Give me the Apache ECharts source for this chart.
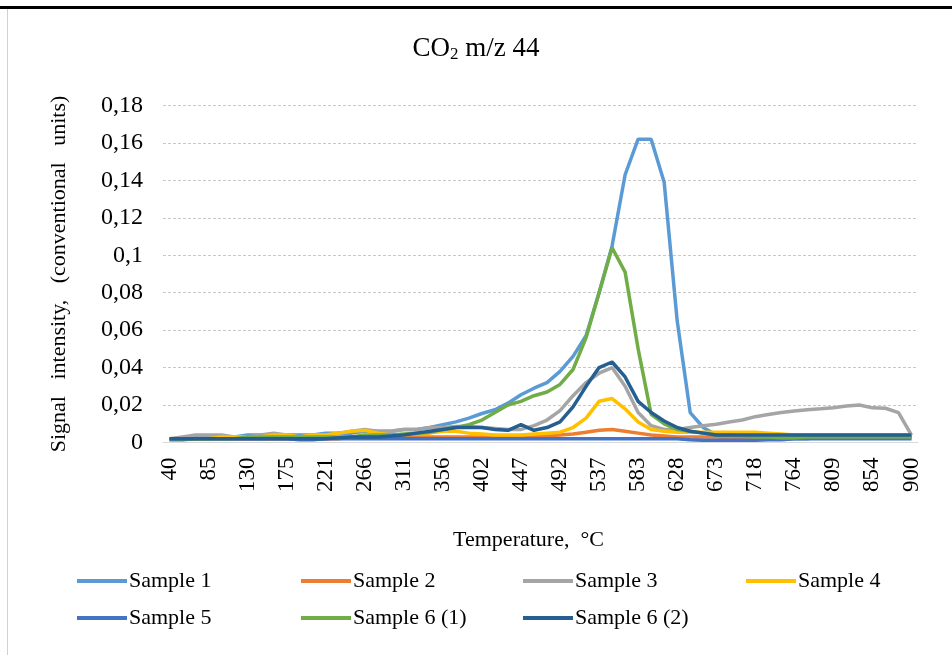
<!DOCTYPE html>
<html>
<head>
<meta charset="utf-8">
<script src="https://cdn.jsdelivr.net/npm/echarts@6/dist/echarts.min.js"></script>
<style>
html,body{margin:0;padding:0;background:#fff;}
#chart{width:952px;height:655px;}
</style>
</head>
<body>
<div id="chart"></div>
<script>
// Temperature categories (°C)
var temperatures = ['40','55','70','85','100','115','130','145','160','175','190','205','221','236','251','266','281','296','311','326','341','356','371','387','402','417','432','447','462','477','492','507','522','537','552','568','583','598','613','628','643','658','673','688','703','718','734','749','764','779','794','809','824','839','854','869','884','900'];

var sample1 = [0.002,0.002,0.003,0.003,0.003,0.003,0.004,0.004,0.004,0.004,0.004,0.004,0.005,0.005,0.005,0.006,0.006,0.006,0.007,0.007,0.008,0.0095,0.011,0.013,0.0155,0.0175,0.021,0.0255,0.029,0.032,0.038,0.046,0.057,0.080,0.105,0.143,0.162,0.162,0.139,0.065,0.016,0.008,0.004,0.003,0.002,0.002,0.002,0.002,0.002,0.002,0.003,0.003,0.003,0.003,0.003,0.003,0.003,0.003];

var sample2 = [0.002,0.002,0.002,0.002,0.002,0.002,0.002,0.002,0.002,0.002,0.002,0.002,0.002,0.002,0.003,0.003,0.003,0.003,0.003,0.003,0.003,0.003,0.003,0.003,0.003,0.003,0.003,0.003,0.003,0.0035,0.004,0.0045,0.0055,0.0065,0.007,0.006,0.005,0.004,0.0035,0.003,0.003,0.003,0.003,0.0025,0.0025,0.0025,0.0025,0.0025,0.0025,0.0025,0.0025,0.0025,0.0025,0.0025,0.0025,0.0025,0.0025,0.0025];

var sample3 = [0.002,0.003,0.004,0.004,0.004,0.003,0.003,0.004,0.005,0.004,0.003,0.004,0.004,0.005,0.006,0.007,0.006,0.006,0.007,0.007,0.008,0.008,0.0085,0.0085,0.008,0.0075,0.007,0.007,0.009,0.012,0.017,0.025,0.032,0.037,0.040,0.030,0.016,0.009,0.007,0.007,0.008,0.009,0.0097,0.011,0.012,0.0138,0.015,0.016,0.0168,0.0175,0.018,0.0186,0.0195,0.020,0.0185,0.0183,0.016,0.004];

var sample4 = [0.002,0.002,0.002,0.002,0.003,0.003,0.003,0.003,0.004,0.004,0.003,0.004,0.004,0.005,0.006,0.0065,0.005,0.004,0.004,0.005,0.005,0.006,0.006,0.005,0.0045,0.004,0.004,0.004,0.0045,0.005,0.0055,0.008,0.013,0.022,0.0235,0.018,0.011,0.007,0.006,0.0055,0.0055,0.0055,0.0055,0.0055,0.0055,0.0055,0.005,0.0045,0.004,0.004,0.004,0.004,0.004,0.004,0.004,0.004,0.004,0.004];

var sample5 = [0.0015,0.0015,0.002,0.002,0.002,0.002,0.002,0.002,0.002,0.002,0.0015,0.0015,0.002,0.002,0.002,0.002,0.002,0.002,0.002,0.002,0.002,0.002,0.002,0.002,0.002,0.002,0.002,0.002,0.002,0.002,0.002,0.002,0.002,0.002,0.002,0.002,0.002,0.002,0.002,0.002,0.0015,0.0012,0.0012,0.0012,0.0012,0.0012,0.0015,0.0015,0.002,0.002,0.002,0.002,0.002,0.002,0.002,0.002,0.002,0.002];

var sample61 = [0.002,0.002,0.002,0.002,0.002,0.002,0.003,0.003,0.003,0.003,0.003,0.003,0.003,0.003,0.003,0.004,0.004,0.004,0.0045,0.005,0.0055,0.007,0.008,0.0095,0.012,0.016,0.020,0.022,0.025,0.027,0.031,0.039,0.056,0.080,0.104,0.091,0.050,0.015,0.010,0.007,0.006,0.005,0.004,0.004,0.0035,0.003,0.003,0.0025,0.0025,0.003,0.003,0.003,0.003,0.003,0.003,0.003,0.003,0.003];

var sample62 = [0.002,0.002,0.002,0.002,0.002,0.002,0.002,0.002,0.002,0.002,0.002,0.002,0.002,0.0025,0.003,0.003,0.003,0.0035,0.004,0.005,0.006,0.007,0.008,0.008,0.008,0.007,0.0065,0.0095,0.0065,0.008,0.011,0.019,0.030,0.040,0.043,0.035,0.022,0.016,0.0115,0.008,0.006,0.005,0.004,0.004,0.004,0.004,0.004,0.004,0.004,0.004,0.004,0.004,0.004,0.004,0.004,0.004,0.004,0.004];

var seriesNames = ['Sample 1','Sample 2','Sample 3','Sample 4','Sample 5','Sample 6 (1)','Sample 6 (2)'];
var seriesData = [sample1, sample2, sample3, sample4, sample5, sample61, sample62];
var seriesColors = ['#5B9BD5','#ED7D31','#A5A5A5','#FFC000','#4472C4','#70AD47','#255E91'];

// y-axis ticks
var yMin = 0, yMax = 0.18, yStep = 0.02;

var FONT = "'Liberation Serif', 'Times New Roman', serif";

var chart = echarts.init(document.getElementById('chart'), null, {renderer: 'canvas'});

var series = seriesNames.map(function (n, k) {
  return {
    name: n,
    type: 'line',
    data: seriesData[k],
    symbol: 'none',
    smooth: false,
    lineStyle: {width: 3.5, color: seriesColors[k]},
    itemStyle: {color: seriesColors[k]},
    emphasis: {disabled: true}
  };
});

// legend layout: 4 columns x 2 rows
var legendPos = [
  [72, 565], [296, 565], [518, 565], [741, 565],
  [72, 602], [296, 602], [518, 602]
];
var legends = seriesNames.map(function (n, k) {
  return {
    data: [n],
    left: legendPos[k][0],
    top: legendPos[k][1],
    icon: 'rect',
    itemWidth: 50,
    itemHeight: 4,
    itemGap: 0,
    textStyle: {fontFamily: FONT, fontSize: 22, color: '#000', padding: [0, 0, 0, -3]},
    selectedMode: false
  };
});

chart.setOption({
  animation: false,
  backgroundColor: '#fff',
  title: {
    text: '{a|CO}{s|2}{a| m/z 44}',
    left: 'center',
    top: 29,
    textStyle: {
      fontWeight: 'normal',
      rich: {
        a: {fontFamily: FONT, fontSize: 27, fontWeight: 'normal', color: '#000'},
        s: {fontFamily: FONT, fontSize: 17, fontWeight: 'normal', color: '#000', padding: [12, 0, 0, 0]}
      }
    }
  },
  legend: legends,
  grid: {left: 163, right: 34, top: 105.5, bottom: 212.5, containLabel: false, outerBoundsMode: 'none'},
  xAxis: {
    type: 'category',
    data: temperatures,
    boundaryGap: true,
    name: 'Temperature,\u00a0\u00a0°C',
    nameLocation: 'middle',
    nameGap: 87,
    nameTextStyle: {fontFamily: FONT, fontSize: 22, color: '#000', padding: [0, 24, 0, 0]},
    axisLine: {show: true, lineStyle: {color: '#d9d9d9', width: 1}},
    axisTick: {show: false},
    axisLabel: {
      interval: 2,
      rotate: 90,
      margin: 15,
      fontFamily: FONT,
      fontSize: 23,
      color: '#000'
    },
    splitLine: {show: false}
  },
  yAxis: {
    type: 'value',
    min: yMin,
    max: yMax,
    interval: yStep,
    name: 'Signal\u00a0\u00a0\u00a0intensity,\u00a0\u00a0\u00a0(conventional\u00a0\u00a0\u00a0units)',
    nameLocation: 'middle',
    nameGap: 93,
    nameTextStyle: {fontFamily: FONT, fontSize: 22, color: '#000'},
    axisLine: {show: false},
    axisTick: {show: false},
    axisLabel: {
      margin: 20,
      fontFamily: FONT,
      fontSize: 24,
      color: '#000',
      formatter: function (v) { return String(+v.toFixed(2)).replace('.', ','); }
    },
    splitLine: {show: true, lineStyle: {color: '#c8c8c8', width: 1, type: [3, 2]}}
  },
  graphic: [
    {type: 'rect', shape: {x: 0, y: 6, width: 952, height: 3}, style: {fill: '#000'}, silent: true},
    {type: 'rect', shape: {x: 7, y: 9, width: 1, height: 646}, style: {fill: '#d0d0d0'}, silent: true}
  ],
  series: series
});
</script>
</body>
</html>
